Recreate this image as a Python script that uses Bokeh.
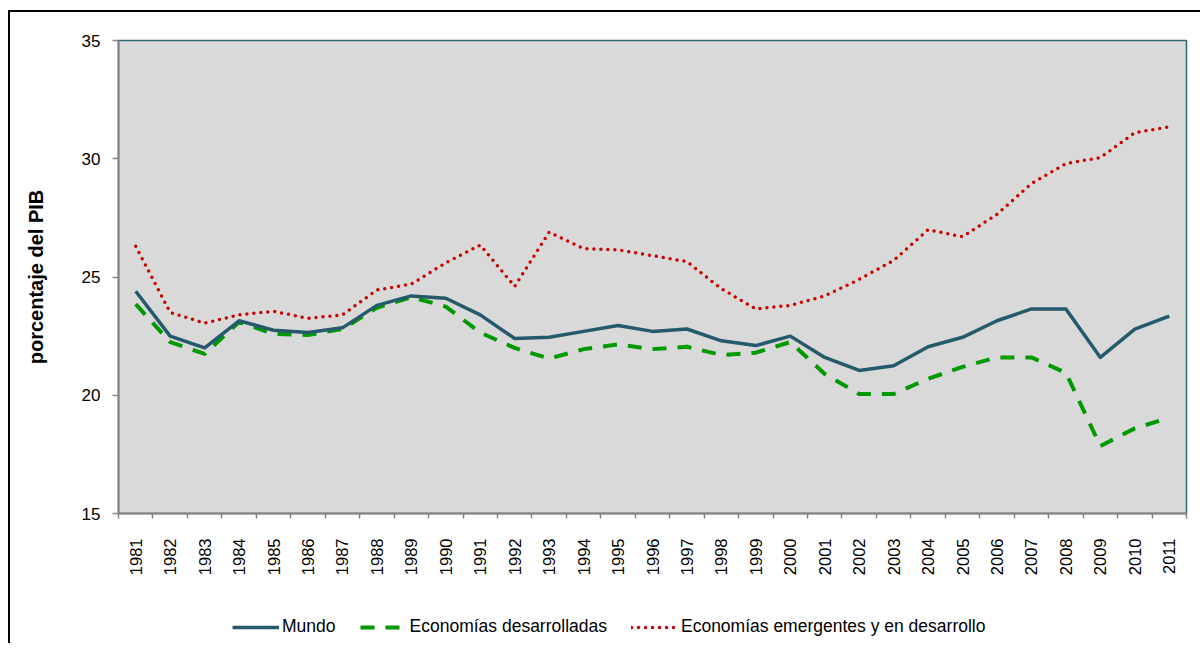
from bokeh.plotting import figure
from bokeh.layouts import column
from bokeh.models import (Range1d, LinearAxis, FixedTicker, CustomJSTickFormatter,
                          Legend, LegendItem, ColumnDataSource)
from bokeh.embed import file_html
from bokeh.resources import INLINE
import math

years = [str(y) for y in range(1981, 2012)]
mundo = [24.4, 22.5, 22.0, 23.15, 22.75, 22.65, 22.85, 23.8, 24.2, 24.1, 23.4,
         22.4, 22.45, 22.7, 22.95, 22.7, 22.8, 22.3, 22.1, 22.5, 21.6,
         21.05, 21.25, 22.05, 22.45, 23.15, 23.65, 23.65, 21.6, 22.8, 23.35]
desarrolladas = [23.85, 22.25, 21.75, 23.1, 22.6, 22.55, 22.8, 23.7, 24.15, 23.75, 22.65,
                 22.0, 21.55, 21.95, 22.15, 21.95, 22.05, 21.7, 21.8, 22.25, 20.9,
                 20.05, 20.05, 20.7, 21.2, 21.6, 21.6, 20.95, 17.85, 18.6, 19.05]
emergentes = [26.3, 23.5, 23.05, 23.4, 23.55, 23.25, 23.4, 24.45, 24.7, 25.6, 26.35,
              24.6, 26.9, 26.2, 26.15, 25.9, 25.65, 24.5, 23.65, 23.8, 24.2,
              24.9, 25.7, 27.0, 26.7, 27.65, 28.95, 29.8, 30.05, 31.1, 31.35]
y_ticks = [15, 20, 25, 30, 35]
names = ["Mundo", "Economías desarrolladas", "Economías emergentes y en desarrollo"]
colors = ["#245A6A", "#009A00", "#C80000"]

n = len(years)
xs = [i + 0.5 for i in range(n)]
src = ColumnDataSource(dict(x=xs, m=mundo, d=desarrolladas, e=emergentes))
cols = ["m", "d", "e"]

FONT = "Liberation Sans"
STYLES = [dict(line_color=colors[0], line_width=3.5, line_join="round"),
          dict(line_color=colors[1], line_width=4, line_dash="14 11", line_join="round"),
          dict(line_color=colors[2], line_width=3.5, line_dash="0 7", line_cap="round",
               line_join="round")]

p = figure(frame_width=1068, frame_height=473, output_backend="svg", toolbar_location=None,
           x_range=Range1d(0, n), y_range=Range1d(15, 35),
           min_border_left=108, min_border_top=28, min_border_right=14, min_border_bottom=80,
           background_fill_color="#D9D9D9", border_fill_color="white",
           outline_line_color="#2F6676", outline_line_width=1.5,
           x_axis_type=None, y_axis_type=None)

# y axis
yax = LinearAxis(ticker=FixedTicker(ticks=y_ticks, minor_ticks=[]))
yax.axis_line_color = "#858585"
yax.axis_line_width = 2
yax.major_tick_line_color = "#858585"
yax.major_tick_line_width = 1.5
yax.major_tick_out = 6
yax.major_tick_in = 0
yax.minor_tick_line_color = None
yax.major_label_standoff = 12
yax.major_label_text_font = FONT
yax.major_label_text_font_size = "17px"
yax.major_label_text_color = "#000000"
yax.axis_label = "porcentaje del PIB"
yax.axis_label_text_font = FONT
yax.axis_label_text_font_style = "bold"
yax.axis_label_text_font_size = "20px"
yax.axis_label_text_color = "#000000"
yax.axis_label_standoff = 32
p.add_layout(yax, "left")

# x axis: labels at category centres, small ticks at category boundaries
xax = LinearAxis(ticker=FixedTicker(ticks=xs, minor_ticks=list(range(n + 1))))
xax.formatter = CustomJSTickFormatter(args=dict(years=years),
                                      code="return years[Math.floor(tick)];")
xax.axis_line_color = "#858585"
xax.axis_line_width = 2
xax.major_tick_line_color = None
xax.major_tick_out = 0
xax.major_tick_in = 0
xax.minor_tick_line_color = "#858585"
xax.minor_tick_line_width = 1.5
xax.minor_tick_out = 5
xax.minor_tick_in = 0
xax.major_label_orientation = math.pi / 2
xax.major_label_standoff = 20
xax.major_label_text_font = FONT
xax.major_label_text_font_size = "16.5px"
xax.major_label_text_color = "#000000"
p.add_layout(xax, "below")

# grid
p.ygrid.ticker = FixedTicker(ticks=[20, 25, 30])
p.ygrid.grid_line_color = "#8C8C8C"
p.ygrid.grid_line_width = 1.5
p.xgrid.grid_line_color = None

for c, st in reversed(list(zip(cols, STYLES))):
    p.line("x", c, source=src, **st)

# legend strip below the chart (its lines fall outside its own view range)
q = figure(width=1190, height=50, output_backend="svg", toolbar_location=None,
           x_range=Range1d(0, n), y_range=Range1d(0, 1), min_border=0,
           x_axis_type=None, y_axis_type=None, outline_line_color=None,
           background_fill_color="white", border_fill_color="white")
q.xgrid.grid_line_color = None
q.ygrid.grid_line_color = None
items = []
for name, c, st in zip(names, cols, STYLES):
    r = q.line("x", c, source=src, **st)
    items.append(LegendItem(label=name, renderers=[r]))
legend = Legend(items=items, orientation="horizontal", location=(114, 6),
                padding=0, margin=0, spacing=24, label_standoff=3,
                glyph_width=47, glyph_height=20, label_height=20,
                border_line_color=None, background_fill_alpha=0,
                label_text_font=FONT, label_text_font_size="17.5px",
                label_text_color="#000000")
q.add_layout(legend, "center")

layout = column(p, q, spacing=0)
layout.margin = (10, 0, 0, 8)
layout.styles = {"border-left": "2px solid #000000", "border-top": "2px solid #000000"}

open("out.html", "w").write(file_html(layout, INLINE))
